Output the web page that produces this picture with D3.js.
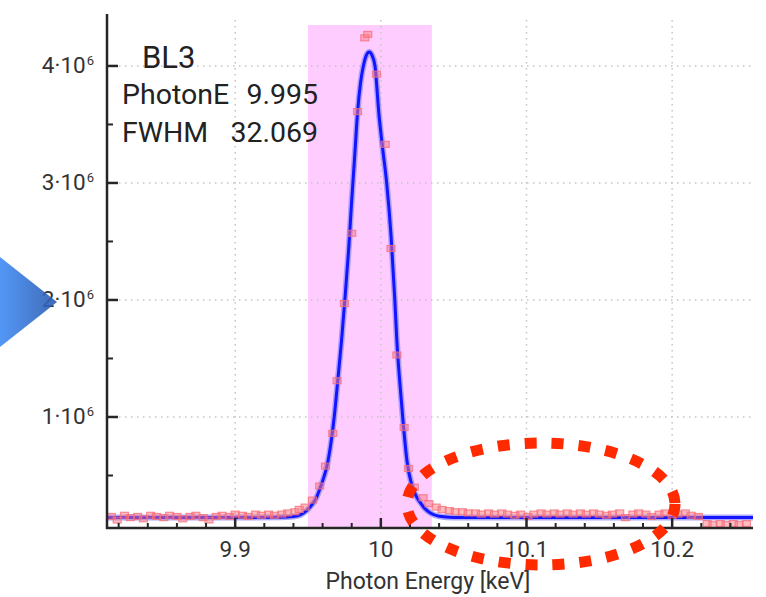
<!DOCTYPE html>
<html><head><meta charset="utf-8">
<script src="https://cdn.jsdelivr.net/npm/d3@7"></script>
<style>body{margin:0;background:#fff;} svg{display:block;font-family:Roboto,"Noto Sans",sans-serif;}</style>
</head><body><svg id="c" width="766" height="597"></svg>
<script>
// ---- data ----
const xDomain = [9.812, 10.2555];
const yDomain = [0.0513e6, 4.444e6];
const xTicks = [9.9, 10, 10.1, 10.2];
const xTickLabels = ["9.9", "10", "10.1", "10.2"];
const xMinorTicks = [9.82,9.84,9.86,9.88,9.92,9.94,9.96,9.98,10.02,10.04,10.06,10.08,10.12,10.14,10.16,10.18,10.22,10.24];
const yTicks = [1e6, 2e6, 3e6, 4e6];
const yTickMantissa = ["1", "2", "3", "4"];
const yMinorTicks = [0.5e6, 1.5e6, 2.5e6, 3.5e6];
const band = [9.950, 10.035];
const bandTop = 4.35e6;

// fit curve (keV, counts in 1e6)
const fitX = [9.812,9.85,9.90,9.93,9.940,9.945,9.949,9.952,9.955,9.958,9.961,9.963,9.966,9.968,9.9705,9.973,9.9753,9.978,9.980,9.982,9.984,9.986,9.988,9.990,9.992,9.994,9.996,9.9986,10.001,10.004,10.007,10.0096,10.011,10.013,10.015,10.018,10.021,10.024,10.027,10.030,10.034,10.040,10.050,10.10,10.20,10.2555];
const fitY = [0.140,0.140,0.140,0.143,0.150,0.165,0.20,0.24,0.29,0.38,0.49,0.58,0.80,1.00,1.32,1.65,2.00,2.45,2.85,3.22,3.60,3.85,4.00,4.09,4.12,4.09,4.00,3.60,3.32,3.00,2.55,2.00,1.65,1.30,1.00,0.62,0.43,0.33,0.27,0.22,0.18,0.152,0.142,0.140,0.140,0.140];

// measured points (keV, counts in 1e6)
const dataX = [9.815,9.819,9.824,9.828,9.833,9.837,9.842,9.846,9.851,9.855,9.860,9.864,9.869,9.873,9.878,9.882,9.887,9.891,9.896,9.900,9.905,9.909,9.914,9.918,9.923,9.927,9.932,9.936,9.941,9.944,
  9.948,9.953,9.958,9.962,9.967,9.970,9.975,9.980,9.984,9.989,9.991,9.997,10.003,10.007,10.011,10.016,10.019,10.023,10.029,10.033,10.038,
  10.042,10.047,10.051,10.056,10.060,10.065,10.069,10.074,10.078,10.083,10.087,10.092,10.096,10.101,10.105,10.110,10.114,10.119,10.123,10.128,10.132,10.137,10.141,10.146,10.150,10.155,10.159,10.164,10.168,10.173,10.177,10.182,10.186,10.191,10.195,10.200,10.204,10.209,10.213,10.218,
  10.224,10.228,10.233,10.237,10.242,10.246,10.251];
const dataY = [0.15,0.12,0.16,0.14,0.15,0.13,0.16,0.15,0.14,0.16,0.15,0.13,0.15,0.16,0.14,0.12,0.15,0.16,0.15,0.17,0.16,0.15,0.17,0.16,0.17,0.16,0.17,0.18,0.19,0.21,
  0.23,0.29,0.41,0.58,0.86,1.31,1.97,2.57,3.61,4.24,4.27,3.93,3.33,2.44,1.53,0.91,0.56,0.40,0.31,0.26,0.23,
  0.21,0.20,0.19,0.19,0.18,0.18,0.17,0.18,0.17,0.18,0.17,0.16,0.17,0.15,0.17,0.18,0.17,0.18,0.17,0.18,0.17,0.18,0.17,0.18,0.17,0.16,0.17,0.18,0.14,0.17,0.18,0.17,0.15,0.17,0.18,0.16,0.17,0.18,0.16,0.15,
  0.09,0.08,0.09,0.08,0.09,0.08,0.09];

const labelTitle = "BL3";
const labelRows = [["PhotonE", "9.995"], ["FWHM", "32.069"]];
const xAxisTitle = "Photon Energy [keV]";

// ---- drawing ----
const svg = d3.select("#c");
const x = d3.scaleLinear().domain(xDomain).range([107, 753]);
const y = d3.scaleLinear().domain(yDomain).range([528, 14]);

// highlight band
svg.append("rect")
  .attr("x", x(band[0])).attr("width", x(band[1]) - x(band[0]))
  .attr("y", y(bandTop)).attr("height", y(yDomain[0]) - y(bandTop))
  .attr("fill", "#ffccff");

// grid
const grid = svg.append("g").attr("stroke", "#c4c4c4").attr("stroke-width", 1.5).attr("stroke-dasharray", "1.5,4.5");
grid.selectAll(".gx").data(xTicks).join("line")
  .attr("x1", d => x(d)).attr("x2", d => x(d)).attr("y1", 20).attr("y2", y(yDomain[0]));
grid.selectAll(".gy").data(yTicks).join("line")
  .attr("x1", x(xDomain[0])).attr("x2", 752).attr("y1", d => y(d)).attr("y2", d => y(d));

// fit line
const pts = fitX.map((v, i) => [v, fitY[i] * 1e6]);
const line = d3.line().x(d => x(d[0])).y(d => y(d[1])).curve(d3.curveMonotoneX);
svg.append("path").attr("d", line(pts)).attr("fill", "none").attr("stroke", "#8f8fff").attr("stroke-width", 6).attr("stroke-opacity", 0.75).attr("stroke-linejoin", "round");
svg.append("path").attr("d", line(pts)).attr("fill", "none").attr("stroke", "#1414ff").attr("stroke-width", 3).attr("stroke-linejoin", "round");

// data markers
const dpts = dataX.map((v, i) => [v, dataY[i] * 1e6]);
const mk = svg.append("g");
mk.selectAll("rect").data(dpts).join("rect")
  .attr("x", d => x(d[0]) - 4).attr("y", d => y(d[1]) - 3)
  .attr("width", 8).attr("height", 6)
  .attr("fill", "rgba(255,120,130,0.5)")
  .attr("stroke", "rgba(245,110,120,0.75)").attr("stroke-width", 1.2);

// axes
const ax = svg.append("g").attr("stroke", "#262626");
ax.append("line").attr("x1", 107).attr("x2", 107).attr("y1", y(yDomain[1])).attr("y2", y(yDomain[0]) + 1).attr("stroke-width", 2.5);
ax.append("line").attr("x1", 106).attr("x2", x(xDomain[1])).attr("y1", y(yDomain[0])).attr("y2", y(yDomain[0])).attr("stroke-width", 2.5);
ax.selectAll(".ty").data(yTicks).join("line").attr("x1", 107).attr("x2", 118).attr("y1", d => y(d)).attr("y2", d => y(d)).attr("stroke-width", 2.5);
ax.selectAll(".tym").data(yMinorTicks).join("line").attr("x1", 107).attr("x2", 113).attr("y1", d => y(d)).attr("y2", d => y(d)).attr("stroke-width", 2);
ax.selectAll(".tx").data(xTicks).join("line").attr("x1", d => x(d)).attr("x2", d => x(d)).attr("y1", 518).attr("y2", 528).attr("stroke-width", 2.5);
ax.selectAll(".txm").data(xMinorTicks).join("line").attr("x1", d => x(d)).attr("x2", d => x(d)).attr("y1", 523).attr("y2", 528).attr("stroke-width", 2);

// tick labels
svg.selectAll(".xl").data(xTicks).join("text")
  .attr("x", d => x(d)).attr("y", 557).attr("text-anchor", "middle")
  .attr("font-size", 22.5).attr("fill", "#333").text((d, i) => xTickLabels[i]);
const yl = svg.selectAll(".yl").data(yTicks).join("text")
  .attr("x", 94).attr("y", d => y(d) + 7.5).attr("text-anchor", "end")
  .attr("font-size", 22.5).attr("fill", "#333");
yl.append("tspan").text((d, i) => yTickMantissa[i] + "·10");
yl.append("tspan").attr("font-size", 13).attr("dy", -8).attr("dx", 1).text("6");

// axis title
svg.append("text").attr("x", 428).attr("y", 589).attr("text-anchor", "middle")
  .attr("font-size", 23).attr("fill", "#333").text(xAxisTitle);

// annotation text
svg.append("text").attr("x", 142).attr("y", 68).attr("font-size", 31).attr("fill", "#222").text(labelTitle);
labelRows.forEach((r, i) => {
  svg.append("text").attr("x", 122).attr("y", 104 + i * 38).attr("font-size", 28.5).attr("fill", "#222").text(r[0]);
  svg.append("text").attr("x", 318).attr("y", 104 + i * 38).attr("font-size", 28.5).attr("fill", "#222").attr("text-anchor", "end").text(r[1]);
});

// blue arrow triangle on the left
const defs = svg.append("defs");
const lg = defs.append("linearGradient").attr("id", "tri").attr("x1", "0").attr("x2", "1").attr("y1", "0").attr("y2", "0");
lg.append("stop").attr("offset", "0").attr("stop-color", "#3f8cf6");
lg.append("stop").attr("offset", "1").attr("stop-color", "#2b5aae");
svg.append("path").attr("d", "M0,257 L57,302 L0,347 Z").attr("fill", "url(#tri)").attr("opacity", 0.9);

// red dotted ellipse
svg.append("ellipse").attr("cx", 541).attr("cy", 504).attr("rx", 134).attr("ry", 61)
  .attr("fill", "none").attr("stroke", "#ff2a00").attr("stroke-width", 11)
  .attr("stroke-dasharray", "12,15");
</script></body></html>
